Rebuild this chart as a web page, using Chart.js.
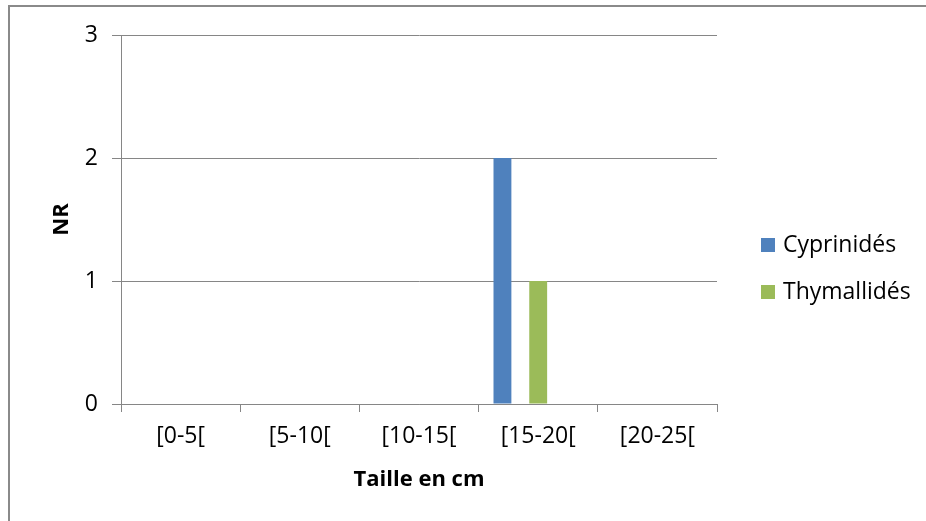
<!DOCTYPE html>
<html>
<head>
<meta charset="utf-8">
<script src="https://cdn.jsdelivr.net/npm/chart.js@4"></script>
<style>
html,body{margin:0;padding:0;background:#fff;}
canvas{display:block;}
</style>
</head>
<body>
<canvas id="c" width="926" height="521"></canvas>
<script>
const categories = ['[0-5[', '[5-10[', '[10-15[', '[15-20[', '[20-25['];
const cyprinides = [0, 0, 0, 2, 0];
const thymallides = [0, 0, 0, 1, 0];
const emptySeries = [null, null, null, null, null];
const yTicks = [0, 1, 2, 3];
const seriesNames = ['Cyprinidés', 'Thymallidés'];
const xTitle = 'Taille en cm';
const yTitle = 'NR';

const FONT = "'Open Sans', sans-serif";
const GRID = '#868686';

const frame = {
  id: 'frame',
  beforeDraw(chart) {
    const ctx = chart.ctx;
    ctx.save();
    ctx.fillStyle = '#fff';
    ctx.fillRect(0, 0, chart.width, chart.height);
    ctx.strokeStyle = '#8a8a8a';
    ctx.lineWidth = 2;
    ctx.beginPath();
    ctx.moveTo(9, chart.height);
    ctx.lineTo(9, 6);
    ctx.lineTo(chart.width, 6);
    ctx.stroke();
    ctx.restore();
  }
};

const sideLegend = {
  id: 'sideLegend',
  afterDraw(chart) {
    const ctx = chart.ctx;
    ctx.save();
    ctx.font = "23px " + FONT;
    ctx.textBaseline = 'middle';
    ctx.textAlign = 'left';
    const shown = chart.data.datasets.filter(d => d.label);
    shown.forEach((d, i) => {
      const cy = 245 + i * 47;
      ctx.fillStyle = d.backgroundColor;
      ctx.fillRect(761, cy - 7, 14, 14);
      ctx.fillStyle = '#000';
      ctx.fillText(d.label, 783, cy);
    });
    ctx.restore();
  }
};

new Chart(document.getElementById('c'), {
  type: 'bar',
  data: {
    labels: categories,
    datasets: [
      { label: seriesNames[0], data: cyprinides, backgroundColor: '#4F81BD' },
      { label: '', data: emptySeries, backgroundColor: 'rgba(0,0,0,0)' },
      { label: seriesNames[1], data: thymallides, backgroundColor: '#9BBB59' },
      { label: '', data: emptySeries, backgroundColor: 'rgba(0,0,0,0)' },
      { label: '', data: emptySeries, backgroundColor: 'rgba(0,0,0,0)' }
    ]
  },
  options: {
    responsive: false,
    animation: false,
    devicePixelRatio: 1,
    layout: { padding: { left: 49, right: 209, top: 35, bottom: 28 } },
    datasets: { bar: { categoryPercentage: 0.75, barPercentage: 1, borderWidth: 0 } },
    plugins: { legend: { display: false }, tooltip: { enabled: false } },
    scales: {
      x: {
        offset: true,
        grid: { offset: true, drawOnChartArea: false, drawTicks: true, tickLength: 8, color: GRID },
        border: { display: true, color: GRID, width: 1 },
        ticks: { color: '#000', font: { family: FONT, size: 23 }, padding: 11, maxRotation: 0 },
        title: { display: true, text: xTitle, color: '#000', font: { family: FONT, size: 22, weight: 'bold' }, padding: { top: 0, bottom: 0 } },
        afterFit(s) { s.height = 89; }
      },
      y: {
        min: yTicks[0],
        max: yTicks[yTicks.length - 1],
        afterBuildTicks(s) { s.ticks = yTicks.map(v => ({ value: v })); },
        grid: { color: GRID, tickLength: 9, drawTicks: true },
        border: { display: true, color: GRID, width: 1 },
        ticks: { color: '#000', font: { family: FONT, size: 23 }, padding: 14 },
        title: { display: true, text: yTitle, color: '#000', font: { family: FONT, size: 22, weight: 'bold' }, padding: { top: 0, bottom: 0 } },
        afterFit(s) { s.width = 72; }
      }
    }
  },
  plugins: [frame, sideLegend]
});
</script>
</body>
</html>
